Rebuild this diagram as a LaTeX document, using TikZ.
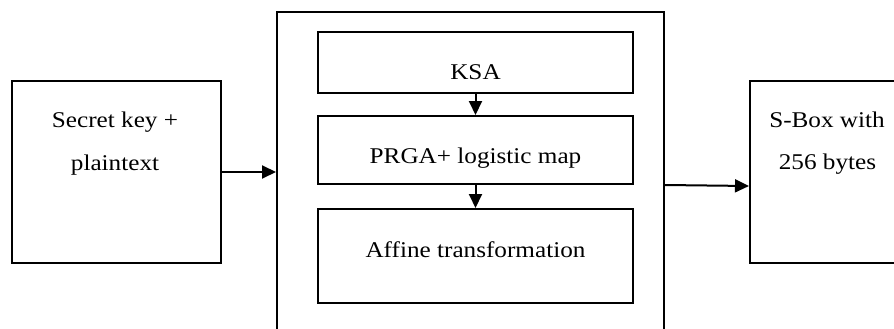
\documentclass[tikz,border=0pt]{standalone}
\usepackage{fontspec}
\setmainfont{Liberation Serif}
\usetikzlibrary{arrows.meta}
\newcommand{\wide}[1]{\scalebox{1.12}[1]{#1}}
\tikzset{
  blk/.style={draw=black, line width=2pt, fill=white, inner sep=0pt},
  lbl/.style={anchor=base, inner sep=0pt, font=\fontsize{22.5}{24}\selectfont},
  flow/.style={line width=2pt, -{Triangle[length=14pt,width=13pt]}}
}
\begin{document}
\begin{tikzpicture}[x=1pt, y=-1pt]
  \useasboundingbox (0,0) rectangle (894,329);
  \begin{scope}
    \clip (0,0) rectangle (894,329);
    % input block
    \node[blk, minimum width=209pt, minimum height=182pt] (input) at (116.5,172) {};
    \node[lbl] (inputA) at (115,127) {\wide{Secret key +}};
    \node[lbl] (inputB) at (115,170) {\wide{plaintext}};
    % container for the generation stages
    \node[blk, minimum width=387pt, minimum height=340pt] (core) at (470.5,182) {};
    \node[blk, minimum width=315pt, minimum height=61pt] (ksa) at (475.5,62.5) {};
    \node[lbl] (ksaT) at (475.5,79) {\wide{KSA}};
    \node[blk, minimum width=315pt, minimum height=68pt] (prga) at (475.5,150) {};
    \node[lbl] (prgaT) at (475.5,163) {\wide{PRGA+ logistic map}};
    \node[blk, minimum width=315pt, minimum height=94pt] (aff) at (475.5,256) {};
    \node[lbl] (affT) at (475.5,257) {\wide{Affine transformation}};
    % output block
    \node[blk, minimum width=170pt, minimum height=182pt] (sbox) at (835,172) {};
    \node[lbl] (sboxA) at (827,127) {\wide{S-Box with}};
    \node[lbl] (sboxB) at (827.5,169) {\wide{256 bytes}};
  \end{scope}
  % connectors
  \draw[flow] (input.east) -- (core.west |- input.east);
  \draw[flow] (ksa.south) -- (prga.north);
  \draw[flow] (prga.south) -- (aff.north);
  \draw[flow] (core.east |- 0,185) -- (sbox.west |- 0,186);
\end{tikzpicture}
\end{document}
